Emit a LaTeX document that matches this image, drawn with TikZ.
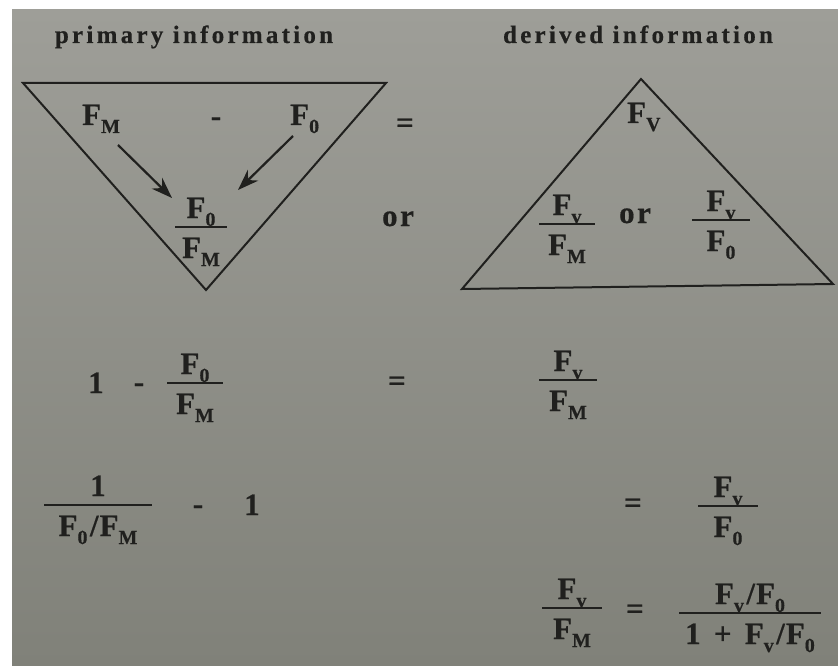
\documentclass[tikz,border=0pt]{standalone}
\usepackage{fontspec}
\setmainfont{Liberation Serif}
\newfontfamily\bodyfont{Liberation Serif}[LetterSpace=8,FakeBold=0.5]
\newfontfamily\titlefont{Liberation Serif}[LetterSpace=13,FakeBold=0.4]
\usetikzlibrary{arrows.meta}
\definecolor{ink}{RGB}{32,32,30}
\definecolor{bgtop}{RGB}{158,158,152}
\definecolor{bgbot}{RGB}{128,129,121}
\newcommand{\subx}[1]{\raisebox{-8pt}{\fontsize{20}{20}\selectfont #1}}
\newcommand{\Fq}[1]{F\subx{#1}}
\newcommand{\slsh}{\kern2.5pt/\kern1pt}
\newcommand{\myfrac}[6]{%
  \node[txt,anchor=base] (#1-n) at (#2,#3-9) {#5};
  \node[txt,anchor=base] (#1-d) at (#2,#3+31) {#6};
  \coordinate (#1-l) at (#2-#4,#3);
  \coordinate (#1-r) at (#2+#4,#3);
  \draw[fracbar] (#1-l) -- (#1-r);}
\tikzset{
  txt/.style={inner sep=0pt, text=ink, font={\bodyfont\bfseries\fontsize{31}{33}\selectfont}},
  ttl/.style={inner sep=0pt, text=ink, font={\titlefont\bfseries\fontsize{25}{28}\selectfont}},
  fracbar/.style={draw=ink, line width=2.4pt},
  tri/.style={draw=ink, line width=2pt, line join=miter},
  arr/.style={draw=ink, line width=2.2pt, -{Stealth[length=21pt,width=15pt]}}
}
\begin{document}
\begin{tikzpicture}[x=1pt,y=-1pt]
\useasboundingbox (0,0) rectangle (838,666);
\fill[white] (0,0) rectangle (838,666);
\shade[top color=bgtop, bottom color=bgbot] (12,10) rectangle (838,666);

% titles
\node[ttl,anchor=base] (t1) at (194,43) {primary information};
\node[ttl,anchor=base] (t2) at (638,43) {derived information};

% left (inverted) triangle
\coordinate (L1) at (23,83);
\coordinate (L2) at (386,83);
\coordinate (L3) at (206,290);
\draw[tri] (L1) -- (L2) -- (L3) -- cycle;
\node[txt,anchor=base west] (fm) at (82,125) {\Fq{M}};
\node[txt,anchor=base] (mi1) at (216,126) {-};
\node[txt,anchor=base west] (f0) at (290,125) {\Fq{0}};
\myfrac{tf}{201}{227}{26}{\Fq{0}}{\Fq{M}}
\coordinate (a1s) at (118,145);
\coordinate (a1e) at (172,198);
\coordinate (a2s) at (293,136);
\coordinate (a2e) at (238,190);
\draw[arr] (a1s) -- (a1e);
\draw[arr] (a2s) -- (a2e);
\node[txt,anchor=base] (eq1) at (405,133) {=};
\node[txt,anchor=base] (or1) at (398,226) {or};

% right triangle
\coordinate (R1) at (641,79);
\coordinate (R2) at (833,284);
\coordinate (R3) at (462,289);
\draw[tri] (R1) -- (R2) -- (R3) -- cycle;
\node[txt,anchor=base west] (fv) at (627,123) {\Fq{V}};
\myfrac{ra}{567}{224}{28}{\Fq{v}}{\Fq{M}}
\node[txt,anchor=base] (or2) at (635,223) {or};
\myfrac{rb}{721}{220}{29}{\Fq{v}}{\Fq{0}}

% row 2
\node[txt,anchor=base] (one1) at (96,393) {1};
\node[txt,anchor=base] (mi2) at (139,392) {-};
\myfrac{r2a}{195}{383}{28}{\Fq{0}}{\Fq{M}}
\node[txt,anchor=base] (eq2) at (397,391) {=};
\myfrac{r2b}{568}{380}{29}{\Fq{v}}{\Fq{M}}

% row 3
\myfrac{r3a}{98}{505}{54}{1}{\Fq{0}\slsh\Fq{M}}
\node[txt,anchor=base] (mi3) at (198,514) {-};
\node[txt,anchor=base] (one2) at (252,515) {1};
\node[txt,anchor=base] (eq3) at (633,513) {=};
\myfrac{r3b}{728}{506}{30}{\Fq{v}}{\Fq{0}}

% row 4
\myfrac{r4a}{572}{608}{30}{\Fq{v}}{\Fq{M}}
\node[txt,anchor=base] (eq4) at (635,619) {=};
\myfrac{r4b}{750}{613}{71}{\Fq{v}\slsh\Fq{0}}{1\hspace{3pt} +\hspace{3pt} \Fq{v}\slsh\Fq{0}}
\end{tikzpicture}
\end{document}
